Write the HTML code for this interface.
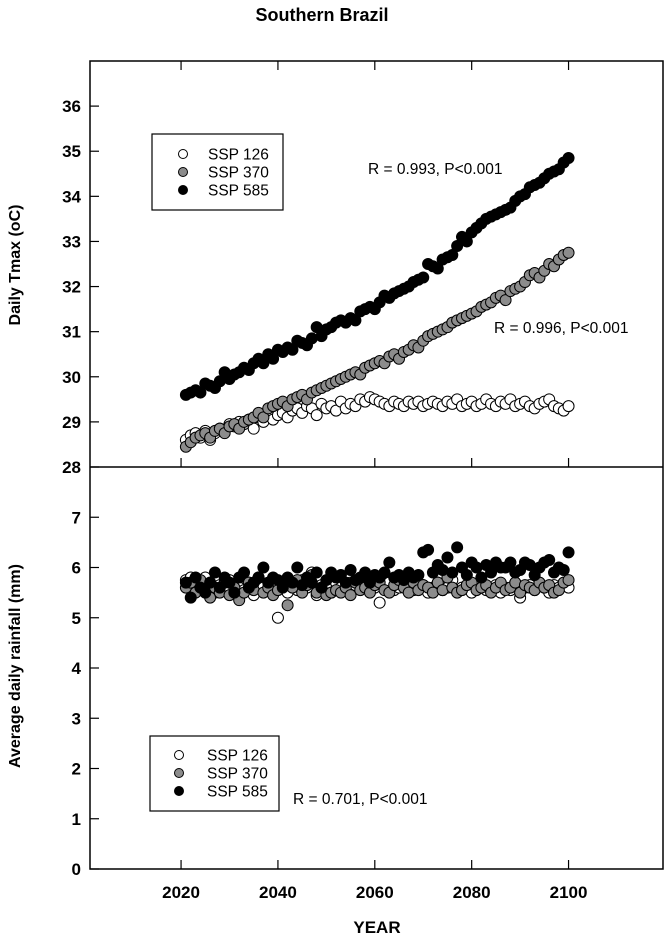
<!DOCTYPE html>
<html><head><meta charset="utf-8"><style>
body{margin:0;background:#fff}
svg text{font-family:"Liberation Sans",Arial,sans-serif}
</style></head><body>
<svg id="chart" width="666" height="936" xmlns="http://www.w3.org/2000/svg">
<text x="322" y="21" text-anchor="middle" font-size="18" font-weight="bold">Southern Brazil</text>
<g id="g"></g>
</svg>
<script>
const years=[];for(let y=2021;y<=2100;y++)years.push(y);
const tTicks=[28,29,30,31,32,33,34,35,36];
const rTicks=[0,1,2,3,4,5,6,7];
const xTicks=[2020,2040,2060,2080,2100];
const t585=[29.6,29.65,29.7,29.65,29.85,29.8,29.75,29.9,30.1,29.95,30.05,30.1,30.2,30.15,30.3,30.4,30.3,30.5,30.4,30.6,30.55,30.65,30.6,30.8,30.75,30.7,30.85,31.1,30.9,31.05,31.1,31.2,31.25,31.2,31.3,31.25,31.45,31.5,31.55,31.5,31.65,31.8,31.75,31.85,31.9,31.95,32.0,32.1,32.15,32.2,32.5,32.45,32.4,32.6,32.65,32.7,32.9,33.1,33.0,33.2,33.3,33.4,33.5,33.55,33.6,33.65,33.7,33.75,33.9,34.0,34.05,34.2,34.25,34.3,34.4,34.5,34.55,34.6,34.75,34.85];
const t370=[28.45,28.55,28.65,28.7,28.75,28.65,28.8,28.85,28.75,28.9,28.95,28.85,29.0,29.05,29.1,29.2,29.1,29.3,29.35,29.4,29.45,29.35,29.5,29.55,29.6,29.5,29.65,29.7,29.75,29.8,29.85,29.9,29.95,30.0,30.05,30.1,30.05,30.2,30.25,30.3,30.35,30.3,30.45,30.5,30.4,30.55,30.6,30.7,30.65,30.8,30.9,30.95,31.0,31.05,31.1,31.2,31.25,31.3,31.35,31.4,31.45,31.55,31.6,31.65,31.75,31.8,31.7,31.9,31.95,32.0,32.1,32.25,32.3,32.2,32.35,32.5,32.45,32.6,32.7,32.75];
const t126=[28.6,28.7,28.75,28.65,28.8,28.6,28.75,28.85,28.8,28.95,28.9,29.0,28.95,29.05,28.85,29.1,29.0,29.2,29.05,29.15,29.2,29.1,29.25,29.3,29.2,29.35,29.3,29.15,29.4,29.3,29.35,29.25,29.45,29.3,29.4,29.35,29.5,29.45,29.55,29.5,29.45,29.4,29.35,29.45,29.4,29.35,29.45,29.4,29.45,29.35,29.4,29.45,29.4,29.35,29.45,29.4,29.5,29.35,29.4,29.45,29.35,29.4,29.5,29.4,29.35,29.45,29.4,29.5,29.35,29.4,29.45,29.35,29.3,29.4,29.45,29.5,29.35,29.3,29.25,29.35];
const r585=[5.7,5.4,5.8,5.6,5.5,5.7,5.9,5.6,5.8,5.7,5.5,5.8,5.9,5.6,5.7,5.8,6.0,5.7,5.8,5.75,5.6,5.8,5.7,6.0,5.65,5.8,5.7,5.9,5.6,5.75,5.9,5.8,5.85,5.7,5.95,5.75,5.8,5.9,5.7,5.85,5.8,5.9,6.1,5.8,5.85,5.75,5.9,5.8,5.85,6.3,6.35,5.9,6.05,5.95,6.2,5.9,6.4,6.0,5.85,6.1,6.0,5.8,6.05,5.9,6.1,6.0,6.0,6.1,5.9,5.95,6.1,6.05,5.85,6.0,6.1,6.15,5.9,6.0,5.95,6.3];
const r370=[5.6,5.7,5.5,5.75,5.55,5.4,5.6,5.5,5.7,5.45,5.6,5.35,5.5,5.7,5.55,5.8,5.5,5.6,5.45,5.55,5.7,5.25,5.6,5.75,5.5,5.65,5.85,5.5,5.6,5.45,5.5,5.55,5.5,5.6,5.45,5.7,5.55,5.6,5.5,5.65,5.7,5.55,5.5,5.65,5.75,5.6,5.5,5.7,5.55,5.65,5.6,5.5,5.7,5.55,5.8,5.6,5.5,5.55,5.65,5.7,5.55,5.6,5.65,5.5,5.6,5.7,5.55,5.6,5.7,5.5,5.65,5.6,5.55,5.7,5.6,5.65,5.5,5.55,5.7,5.75];
const r126=[5.75,5.8,5.6,5.55,5.8,5.7,5.5,5.65,5.6,5.75,5.5,5.6,5.55,5.7,5.45,5.8,5.6,5.55,5.65,5.0,5.6,5.5,5.7,5.55,5.75,5.6,5.9,5.45,5.65,5.6,5.5,5.7,5.6,5.55,5.7,5.65,5.6,5.75,5.55,5.6,5.3,5.6,5.7,5.55,5.6,5.65,5.75,5.55,5.6,5.65,5.5,5.6,5.7,5.55,5.6,5.75,5.55,5.6,5.65,5.5,5.6,5.7,5.55,5.6,5.65,5.5,5.6,5.55,5.7,5.4,5.6,5.65,5.55,5.7,5.6,5.5,5.65,5.6,5.7,5.6];

const NS="http://www.w3.org/2000/svg";
const g=document.getElementById('g');
const L=90,R=663,TT=61,MID=467,BB=869;
const xs=v=>L+(v-2001.2)*(R-L)/(2119.5-2001.2);
const yT=v=>MID-(v-28)*(MID-TT)/9;
const yR=v=>BB-(v)*(BB-MID)/8;
function el(tag,at,txt){const e=document.createElementNS(NS,tag);for(const k in at)e.setAttribute(k,at[k]);if(txt!==undefined)e.textContent=txt;g.appendChild(e);return e;}

let e;
e=el('rect',{x:L,y:TT,width:R-L,height:BB-TT,fill:'none',stroke:'#000','stroke-width':1.5});


e=el('line',{x1:L,x2:R,y1:MID,y2:MID,stroke:'#000','stroke-width':1.5});



tTicks.forEach(v=>{const y=yT(v);
 e=el('line',{x1:L,x2:L+9,y1:y,y2:y,stroke:'#000','stroke-width':1.2});
 
 
 e=el('text',{x:81,y:y+6,'text-anchor':'end','font-size':17,'font-weight':'bold'},v);
 
 
});
rTicks.forEach(v=>{const y=yR(v);
 e=el('line',{x1:L,x2:L+9,y1:y,y2:y,stroke:'#000','stroke-width':1.2});
 
 
 e=el('text',{x:81,y:y+6,'text-anchor':'end','font-size':17,'font-weight':'bold'},v);
 
 
});
xTicks.forEach(v=>{const x=xs(v);
 e=el('line',{x1:x,x2:x,y1:BB,y2:BB-9,stroke:'#000','stroke-width':1.2});
 
 
 e=el('line',{x1:x,x2:x,y1:MID,y2:MID-9,stroke:'#000','stroke-width':1.2});
 
 
 e=el('line',{x1:x,x2:x,y1:TT,y2:TT+9,stroke:'#000','stroke-width':1.2});
 
 
 e=el('text',{x:x,y:898,'text-anchor':'middle','font-size':17,'font-weight':'bold'},v);
 
 
});

function series(arr,fy,fill,name){arr.forEach((v,i)=>{
 const c=el('circle',{cx:xs(years[i]),cy:fy(v),r:5.5,fill:fill,stroke:'#000','stroke-width':1});
 
 
});}
series(t126,yT,'#fff','tmax-ssp126-point');
series(t370,yT,'#8c8c8c','tmax-ssp370-point');
series(t585,yT,'#000','tmax-ssp585-point');
series(r126,yR,'#fff','rain-ssp126-point');
series(r370,yR,'#8c8c8c','rain-ssp370-point');
series(r585,yR,'#000','rain-ssp585-point');

function legend(x,y,w,h,mx,tx,r0,prefix){
 e=el('rect',{x:x,y:y,width:w,height:h,fill:'#fff',stroke:'#000','stroke-width':1.2});
 
 
 [['SSP 126','#fff'],['SSP 370','#8c8c8c'],['SSP 585','#000']].forEach((d,i)=>{
  const cy=r0+i*18;
  e=el('circle',{cx:mx,cy:cy,r:4.5,fill:d[1],stroke:'#000'});
  
  
  e=el('text',{x:tx,y:cy+5.5,'font-size':15.5},d[0]);
  
  
 });
}
legend(152,134,131,76,183,208,154,'tmax');
legend(150,736,129,75,179,207,755,'rain');

e=el('text',{x:368,y:174,'font-size':15.5},'R = 0.993, P<0.001');


e=el('text',{x:494,y:333,'font-size':15.5},'R = 0.996, P<0.001');


e=el('text',{x:293,y:804,'font-size':15.5},'R = 0.701, P<0.001');



e=el('text',{x:377,y:933,'text-anchor':'middle','font-size':17,'font-weight':'bold'},'YEAR');


e=el('text',{transform:'translate(20,265) rotate(-90)','text-anchor':'middle','font-size':16,'font-weight':'bold'},'Daily Tmax (oC)');


e=el('text',{transform:'translate(20,666) rotate(-90)','text-anchor':'middle','font-size':16,'font-weight':'bold'},'Average daily rainfall (mm)');


</script>
</body></html>
